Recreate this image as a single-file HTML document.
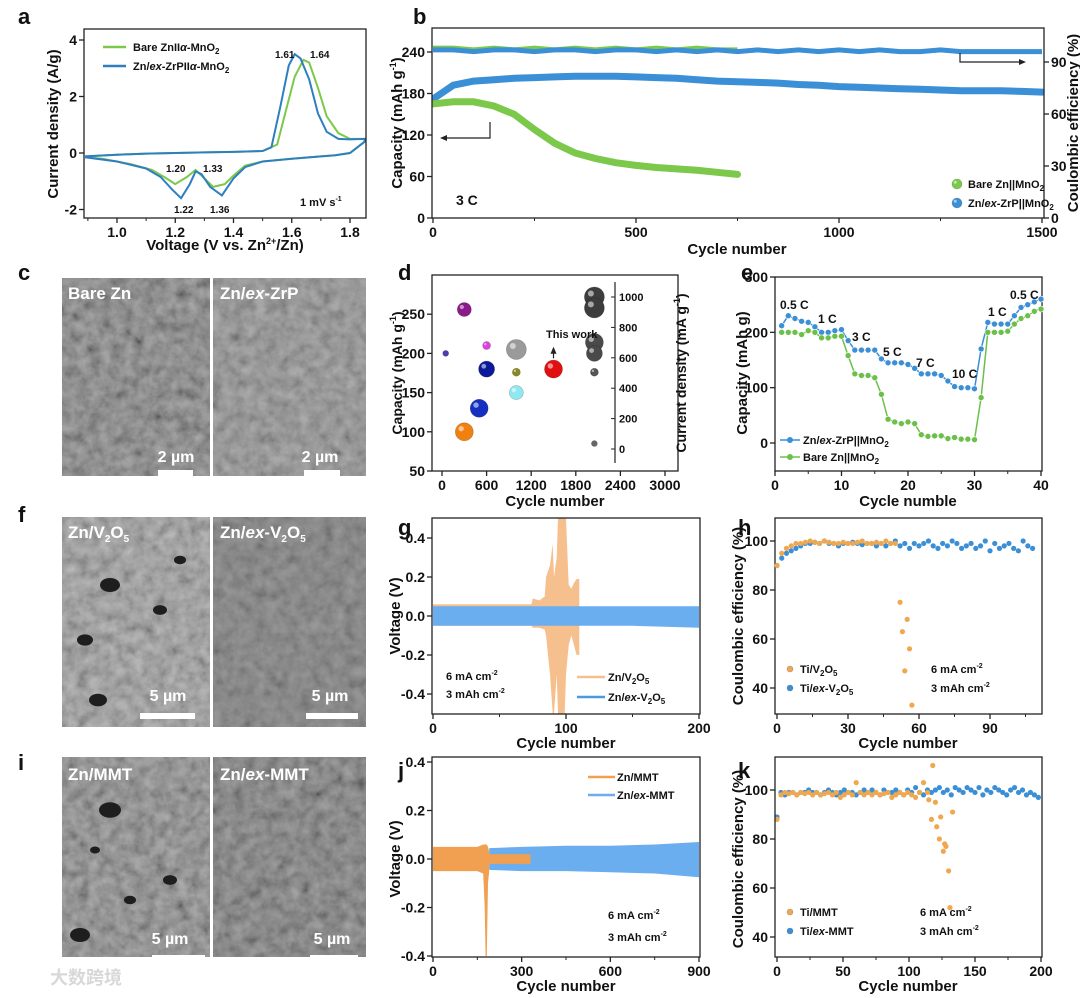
<!DOCTYPE html>
<html><head><meta charset="utf-8">
<style>
html,body{margin:0;padding:0;background:#fff;}
svg{display:block;font-family:"Liberation Sans","Noto Sans CJK SC",sans-serif;font-weight:bold;}
</style></head>
<body>
<svg id="fig" width="1080" height="998" viewBox="0 0 1080 998" xmlns="http://www.w3.org/2000/svg">
<defs>
<filter id="sem" x="0" y="0" width="100%" height="100%">
<feTurbulence type="fractalNoise" baseFrequency="0.09" numOctaves="3" seed="4"/>
<feColorMatrix type="matrix" values="0.5 0.5 0 0 -0.1  0.5 0.5 0 0 -0.1  0.5 0.5 0 0 -0.1  0 0 0 0 1"/>
</filter>
</defs>
</svg>
<script>
// ---------- data ----------
const cvVoltBlue = [0.89,1.0,1.1,1.2,1.3,1.4,1.5,1.53,1.56,1.59,1.61,1.63,1.66,1.69,1.72,1.76,1.80,1.85,1.85,1.80,1.75,1.70,1.60,1.50,1.44,1.40,1.36,1.32,1.29,1.27,1.25,1.22,1.19,1.15,1.10,1.00,0.89];
const cvCurBlue  = [-0.12,-0.06,-0.02,0.0,0.02,0.04,0.07,0.2,1.6,3.1,3.5,3.35,2.6,1.4,0.75,0.5,0.48,0.5,0.4,0.0,-0.08,-0.12,-0.2,-0.3,-0.5,-0.9,-1.5,-1.2,-0.75,-0.65,-1.1,-1.6,-1.3,-0.85,-0.55,-0.3,-0.15];
const cvVoltGreen = [0.89,1.0,1.1,1.2,1.3,1.4,1.5,1.55,1.58,1.61,1.64,1.66,1.69,1.72,1.76,1.80,1.85,1.85,1.80,1.75,1.70,1.60,1.50,1.44,1.40,1.37,1.33,1.30,1.27,1.24,1.20,1.17,1.12,1.05,0.95,0.89];
const cvCurGreen  = [-0.12,-0.06,-0.02,0.0,0.02,0.04,0.07,0.3,1.5,2.7,3.3,3.2,2.3,1.3,0.7,0.5,0.5,0.4,0.0,-0.08,-0.12,-0.2,-0.3,-0.45,-0.8,-1.1,-1.2,-0.9,-0.6,-0.85,-1.1,-0.9,-0.6,-0.4,-0.2,-0.15];
const bCycles = [0,50,100,150,200,250,300,350,400,450,500,550,600,650,700,750,800,850,900,950,1000,1050,1100,1150,1200,1250,1300,1350,1400,1450,1500];
const bCapBlue = [172,192,198,200,202,203,204,205,205,205,204,203,202,200,198,197,196,195,193,192,190,189,188,187,186,185,184,184,184,183,182];
const bCapGreen = [165,168,168,162,150,128,108,94,86,80,76,73,71,69,66,63];
const bCEBlue = [97,97,96,97,97,96,97,97,96,97,97,96,97,96,97,96,97,96,97,96,97,96,97,96,96,97,96,96,96,96,96];
const bCEGreen = [98,98,97,98,97,98,97,98,97,98,97,98,97,98,97,97];
const dCycles = [50,300,600,1000,600,1000,1500,1000,500,300,2050,2050,2050,2050,2050,2050];
const dCaps = [200,256,210,205,180,176,180,150,130,100,272,258,214,200,176,85];
const dSizes = [3,7,4,10,8,4,9,7,9,9,10,10,9,8,4,3];
const dColors = ['#4a3fb0','#8b1a8b','#e040e0','#9a9a9a','#0a1a9a','#8a8a20','#e01010','#8fe8f0','#1530c0','#f08010','#3d3d3d','#3d3d3d','#4a4a4a','#4a4a4a','#555','#666'];
const eCycles = [1,2,3,4,5,6,7,8,9,10,11,12,13,14,15,16,17,18,19,20,21,22,23,24,25,26,27,28,29,30,31,32,33,34,35,36,37,38,39,40];
const eBlue = [212,230,225,220,218,210,200,200,203,205,185,168,168,168,168,152,145,145,145,142,135,125,125,125,122,112,102,100,100,98,170,218,215,215,215,230,245,250,255,260];
const eGreen = [200,200,200,196,203,200,190,190,193,193,158,125,122,122,118,88,43,38,35,38,35,15,12,13,13,8,10,7,7,6,82,200,200,200,202,215,225,230,238,242];
const gOrCyc = [0,74,75,80,84,85,88,90,91,93,94,96,97,99,100,102,104,106,108,110,110];
const gOrUp  = [0.06,0.06,0.09,0.08,0.1,0.2,0.26,0.37,0.2,0.3,0.5,0.5,0.5,0.5,0.5,0.16,0.14,0.17,0.19,0.19,0];
const gOrLo  = [-0.05,-0.05,-0.06,-0.06,-0.07,-0.1,-0.3,-0.5,-0.5,-0.3,-0.5,-0.5,-0.5,-0.5,-0.3,-0.15,-0.1,-0.15,-0.2,-0.2,0];
const gBlCyc = [0,50,100,150,200];
const gBlUp = [0.05,0.05,0.05,0.05,0.05];
const gBlLo = [-0.05,-0.05,-0.05,-0.05,-0.06];
const hOrCyc = [0,2,4,6,8,10,12,14,16,18,20,22,24,26,28,30,32,34,36,38,40,42,44,46,48,50,52,53,54,55,56,57];
const hOrVal = [90,95,97,98,99,99,99.5,100,99.5,99,100,99.5,99,99,99.5,99,99,99.5,100,99,99,99.5,99,100,99,99,75,63,47,68,56,33];
const hBlCyc = [0,2,4,6,8,10,12,14,16,18,20,22,24,26,28,30,32,34,36,38,40,42,44,46,48,50,52,54,56,58,60,62,64,66,68,70,72,74,76,78,80,82,84,86,88,90,92,94,96,98,100,102,104,106,108];
const hBlVal = [90,93,95,96,97,98,99,99,99.5,99,100,99,99,98,99,99,99.5,99,98.5,99,99,98,99,98,99,100,98,99,97,99,98,99,100,98,97,99,98,100,99,97,98,99,97,98,100,96,99,97,98,99,97,96,100,98,97];
const jOrCyc = [0,100,150,170,175,178,182,186,190,190,330,330];
const jOrUp  = [0.05,0.05,0.05,0.06,0.06,0.06,0.06,0.05,0.03,0.02,0.02,0];
const jOrLo  = [-0.05,-0.05,-0.05,-0.06,-0.2,-0.4,-0.4,-0.1,-0.05,-0.02,-0.02,0];
const jBlCyc = [190,300,450,600,750,900];
const jBlUp = [0.045,0.05,0.055,0.055,0.06,0.07];
const jBlLo = [-0.045,-0.05,-0.05,-0.055,-0.06,-0.075];
const kOrCyc = [0,3,6,9,12,15,18,21,24,27,30,33,36,39,42,45,48,51,54,57,60,63,66,69,72,75,78,81,84,87,90,93,96,99,102,105,108,111,114,115,117,118,120,121,123,124,126,127,128,130,131,133,134];
const kOrVal = [88,98,99,98.5,99,98,99,98.5,99,98,99,98,98.5,99,98,99,97,98,99,98,103,99,98,99,98,99,98,98.5,99,97,98,99,98,99,98,97,99,103,99,96,88,110,95,85,80,89,75,78,77,67,52,91,30];
const kBlCyc = [0,3,6,9,12,15,18,21,24,27,30,33,36,39,42,45,48,51,54,57,60,63,66,69,72,75,78,81,84,87,90,93,96,99,102,105,108,111,114,117,120,123,126,129,132,135,138,141,144,147,150,153,156,159,162,165,168,171,174,177,180,183,186,189,192,195,198];
const kBlVal = [89,99,98,99,99,98,99,99,100,99,99,98,99,100,99,98,99,100,99,99,98,99,100,99,100,99,98,100,99,99,100,99,98,100,99,101,99,98,100,99,100,101,99,100,98,101,100,99,101,100,99,101,98,100,99,101,100,99,98,100,101,99,100,98,99,98,97];

// ---------- helpers ----------
const NS='http://www.w3.org/2000/svg';
const svg=document.getElementById('fig');
function mk(tag,attrs,parent){const e=document.createElementNS(NS,tag);for(const k in attrs)e.setAttribute(k,attrs[k]);(parent||svg).appendChild(e);return e;}
function lin(d0,d1,r0,r1){return v=>r0+(v-d0)*(r1-r0)/(d1-d0);}
function text(x,y,s,size,anchor,fill,rot){
  const t=mk('text',{x:x,y:y,'font-size':size,'text-anchor':anchor||'start',fill:fill||'#111'});
  if(rot)t.setAttribute('transform','rotate('+rot+' '+x+' '+y+')');
  t.innerHTML=s;return t;}
function frame(x0,y0,x1,y1){
  const r=mk('rect',{x:x0,y:y0,width:x1-x0,height:y1-y0,fill:'none',stroke:'#222','stroke-width':1.3});
  
  
  return r;}
function xAxis(sx,y,vals,labels,minor){
  vals.forEach((v,i)=>{
    const l=mk('line',{x1:sx(v),x2:sx(v),y1:y,y2:y+5,stroke:'#222','stroke-width':1.3});
    
    
    const t=text(sx(v),y+19,labels[i],14,'middle');
    
    
  });
  (minor||[]).forEach(v=>{const l=mk('line',{x1:sx(v),x2:sx(v),y1:y,y2:y+3,stroke:'#222','stroke-width':1});
    
    });
}
function yAxis(sy,x,vals,labels,right){
  vals.forEach((v,i)=>{
    const l=mk('line',{x1:x,x2:right?x+5:x-5,y1:sy(v),y2:sy(v),stroke:'#222','stroke-width':1.3});
    
    
    const t=text(right?x+7:x-7,sy(v)+5,labels[i],14,right?'start':'end');
    
    
  });
}
function title(x,y,s,rot,size){const t=text(x,y,s,size||15,'middle','#111',rot);return t;}
function panelLetter(x,y,s){const t=text(x,y,s,22,'start','#111');
  
  }
function clip(id,x0,y0,x1,y1){const c=mk('clipPath',{id:id});mk('rect',{x:x0,y:y0,width:x1-x0,height:y1-y0},c);return 'url(#'+id+')';}
function ptsStr(xs,ys,sx,sy){return xs.map((v,i)=>sx(v).toFixed(1)+','+sy(ys[i]).toFixed(1)).join(' ');}
function band(xs,up,lo,sx,sy,fill,cp,name){
  const a=xs.map((v,i)=>sx(v).toFixed(1)+','+sy(up[i]).toFixed(1));
  const b=xs.map((v,i)=>sx(v).toFixed(1)+','+sy(lo[i]).toFixed(1)).reverse();
  const p=mk('polygon',{points:a.concat(b).join(' '),fill:fill,'clip-path':cp});
  
  
}
function ball(cx,cy,r,color,name){
  const c=mk('circle',{cx:cx,cy:cy,r:r,fill:color,stroke:'rgba(0,0,0,0.25)','stroke-width':0.6});
  
  
  if(r>3){const h=mk('circle',{cx:cx-r*0.35,cy:cy-r*0.35,r:r*0.3,fill:'rgba(255,255,255,0.55)'});
    
    }
}
function sem(x,y,w,h,base,op,name){
  const g=mk('g',{});
  
  
  mk('rect',{x:x,y:y,width:w,height:h,fill:base},g);
  mk('rect',{x:x,y:y,width:w,height:h,filter:'url(#sem)',opacity:op},g);
  return g;
}

// ---------- panel a ----------
panelLetter(18,24,'a');
(function(){
  const sx=lin(1.0,1.8,117,350), sy=lin(0,4,153,40);
  const cp=clip('ca',84,29,366,218);
  const gB=mk('polyline',{points:ptsStr(cvVoltGreen,cvCurGreen,sx,sy),fill:'none',stroke:'#7cc84a','stroke-width':2,'clip-path':cp});
  
  
  const bB=mk('polyline',{points:ptsStr(cvVoltBlue,cvCurBlue,sx,sy),fill:'none',stroke:'#2e7fc0','stroke-width':2,'clip-path':cp});
  
  
  frame(84,29,366,218);
  xAxis(sx,218,[1.0,1.2,1.4,1.6,1.8],['1.0','1.2','1.4','1.6','1.8'],[0.9,1.1,1.3,1.5,1.7]);
  yAxis(sy,84,[-2,0,2,4],['-2','0','2','4']);
  title(225,250,'Voltage (V vs. Zn<tspan font-size="9" dy="-6">2+</tspan><tspan dy="6">/Zn)</tspan>');
  title(58,124,'Current density (A/g)',-90);
  const lg1=mk('line',{x1:103,x2:126,y1:47,y2:47,stroke:'#7cc84a','stroke-width':2.5});
  
  
  text(133,51,'Bare ZnII<tspan font-style="italic">α</tspan>-MnO<tspan font-size="8" dy="3">2</tspan>',11);
  const lg2=mk('line',{x1:103,x2:126,y1:66,y2:66,stroke:'#2e7fc0','stroke-width':2.5});
  
  
  text(133,70,'Zn/<tspan font-style="italic">ex</tspan>-ZrPII<tspan font-style="italic">α</tspan>-MnO<tspan font-size="8" dy="3">2</tspan>',11);
  text(275,58,'1.61',10,'start');text(310,58,'1.64',10,'start');
  text(166,172,'1.20',10);text(203,172,'1.33',10);
  text(174,213,'1.22',10);text(210,213,'1.36',10);
  text(300,206,'1 mV s<tspan font-size="7" dy="-5">-1</tspan>',11);
})();

// ---------- panel b ----------
panelLetter(413,24,'b');
(function(){
  const sx=lin(0,1500,433,1042), sy=lin(0,240,218,52), sy2=lin(0,90,218,62);
  const cp=clip('cb',432,28,1044,218);
  const gc=mk('polyline',{points:ptsStr(bCycles.slice(0,16),bCEGreen,sx,sy2),fill:'none',stroke:'#7cc84a','stroke-width':5,'clip-path':cp});
  
  
  const bc=mk('polyline',{points:ptsStr(bCycles,bCEBlue,sx,sy2),fill:'none',stroke:'#3a8fd6','stroke-width':5,'clip-path':cp});
  
  
  const bl=mk('polyline',{points:ptsStr(bCycles,bCapBlue,sx,sy),fill:'none',stroke:'#3a8fd6','stroke-width':7,'stroke-linecap':'round','clip-path':cp});
  
  
  const gl=mk('polyline',{points:ptsStr(bCycles.slice(0,16),bCapGreen,sx,sy),fill:'none',stroke:'#7cc84a','stroke-width':7,'stroke-linecap':'round','clip-path':cp});
  
  
  frame(432,28,1044,218);
  xAxis(sx,218,[0,500,1000,1500],['0','500','1000','1500'],[250,750,1250]);
  yAxis(sy,432,[0,60,120,180,240],['0','60','120','180','240']);
  yAxis(sy2,1044,[0,30,60,90],['0','30','60','90'],true);
  title(737,254,'Cycle number');
  title(402,123,'Capacity (mAh g<tspan font-size="9" dy="-6">-1</tspan><tspan dy="6">)</tspan>',-90);
  title(1078,123,'Coulombic efficiency (%)',-90);
  const a1=mk('polyline',{points:'490,122 490,138 442,138',fill:'none',stroke:'#222','stroke-width':1.2});
  
  
  mk('polygon',{points:'440,138 447,135 447,141',fill:'#222'});
  const a2=mk('polyline',{points:'960,53 960,62 1022,62',fill:'none',stroke:'#222','stroke-width':1.2});
  
  
  mk('polygon',{points:'1026,62 1019,59 1019,65',fill:'#222'});
  text(456,205,'3 C',14);
  ball(957,184,5,'#7cc84a','legend-bare-zn-marker');
  text(968,188,'Bare Zn||MnO<tspan font-size="8" dy="3">2</tspan>',11);
  ball(957,203,5,'#3a8fd6','legend-zn-ex-zrp-marker');
  text(968,207,'Zn/<tspan font-style="italic">ex</tspan>-ZrP||MnO<tspan font-size="8" dy="3">2</tspan>',11);
})();

// ---------- SEM images ----------
panelLetter(18,280,'c');panelLetter(18,522,'f');panelLetter(18,770,'i');
sem(62,278,148,198,'#6f6f6f',0.55,'sem-bare-zn');
sem(213,278,153,198,'#8a8a8a',0.45,'sem-zn-ex-zrp');
sem(62,517,148,210,'#9a9a9a',0.5,'sem-zn-v2o5');
sem(213,517,153,210,'#787878',0.35,'sem-zn-ex-v2o5');
sem(62,757,148,200,'#7a7a7a',0.55,'sem-zn-mmt');
sem(213,757,153,200,'#6a6a6a',0.5,'sem-zn-ex-mmt');
[[110,585,10],[85,640,8],[160,610,7],[98,700,9],[180,560,6]].forEach(h=>{const e=mk('ellipse',{cx:h[0],cy:h[1],rx:h[2],ry:h[2]*0.7,fill:'#1e1e1e'});
  
  });
[[110,810,11],[80,935,10],[170,880,7],[130,900,6],[95,850,5]].forEach(h=>{const e=mk('ellipse',{cx:h[0],cy:h[1],rx:h[2],ry:h[2]*0.7,fill:'#1e1e1e'});
  
  });
[[68,299,'Bare Zn'],[220,299,'Zn/<tspan font-style="italic">ex</tspan>-ZrP'],
 [68,538,'Zn/V<tspan font-size="10" dy="4">2</tspan><tspan dy="-4">O</tspan><tspan font-size="10" dy="4">5</tspan>'],
 [220,538,'Zn/<tspan font-style="italic">ex</tspan>-V<tspan font-size="10" dy="4">2</tspan><tspan dy="-4">O</tspan><tspan font-size="10" dy="4">5</tspan>'],
 [68,780,'Zn/MMT'],[220,780,'Zn/<tspan font-style="italic">ex</tspan>-MMT']].forEach(l=>{const t=text(l[0],l[1],l[2],17,'start','#fff');
  
  });
[[176,462,158,193,470,'2 µm'],[320,462,304,340,470,'2 µm'],[168,701,140,195,713,'5 µm'],[330,701,306,358,713,'5 µm'],[170,944,152,205,955,'5 µm'],[332,944,310,358,955,'5 µm']].forEach(s=>{
  const t=text(s[0],s[1],s[5],16,'middle','#fff');
  
  
  const r=mk('rect',{x:s[2],y:s[4],width:s[3]-s[2],height:6,fill:'#fff'});
  
  });

// ---------- panel d ----------
panelLetter(398,280,'d');
(function(){
  const sx=lin(0,3000,442,665), sy=lin(50,300,471,275), sy2=lin(0,1000,449,297);
  frame(432,275,678,471);
  dCycles.forEach((c,i)=>ball(sx(c),sy(dCaps[i]),dSizes[i],dColors[i],'bubble-'+i));
  xAxis(sx,471,[0,600,1200,1800,2400,3000],['0','600','1200','1800','2400','3000']);
  yAxis(sy,432,[50,100,150,200,250],['50','100','150','200','250']);
  const ax=mk('line',{x1:615,x2:615,y1:282,y2:463,stroke:'#222','stroke-width':1.2});
  
  
  [0,200,400,600,800,1000].forEach(v=>{const l=mk('line',{x1:615,x2:611,y1:sy2(v),y2:sy2(v),stroke:'#222'});
    
    
    const t=text(619,sy2(v)+4,String(v),11,'start');
    
    });
  title(555,506,'Cycle number');
  title(402,373,'Capacity (mAh g<tspan font-size="9" dy="-6">-1</tspan><tspan dy="6">)</tspan>',-90,14);
  title(686,373,'Current density (mA g<tspan font-size="9" dy="-6">-1</tspan><tspan dy="6">)</tspan>',-90,14);
  text(546,338,'This work',11);
  const ar=mk('line',{x1:sx(1500),x2:sx(1500),y1:sy(181)-10,y2:sy(206),stroke:'#222','stroke-width':1.2});
  
  
  mk('polygon',{points:(sx(1500)-3)+','+(sy(206)+5)+' '+(sx(1500)+3)+','+(sy(206)+5)+' '+sx(1500)+','+(sy(206)-2),fill:'#222'});
})();

// ---------- panel e ----------
panelLetter(741,280,'e');
(function(){
  const sx=lin(0,40,775,1041), sy=lin(0,300,443,277);
  frame(775,277,1042,471);
  [['#3a8fd6',eBlue,'rate-zn-ex-zrp'],['#6cc04a',eGreen,'rate-bare-zn']].forEach(s=>{
    const pl=mk('polyline',{points:ptsStr(eCycles,s[1],sx,sy),fill:'none',stroke:s[0],'stroke-width':1.5});
    
    
    eCycles.forEach((c,i)=>{const m=mk('circle',{cx:sx(c),cy:sy(s[1][i]),r:3,fill:s[0],stroke:'#fff','stroke-width':0.6});
      
      });
  });
  xAxis(sx,471,[0,10,20,30,40],['0','10','20','30','40'],[5,15,25,35]);
  yAxis(sy,775,[0,100,200,300],['0','100','200','300']);
  title(908,506,'Cycle numble');
  title(747,373,'Capacity (mAh g)',-90);
  [[780,309,'0.5 C'],[818,323,'1 C'],[852,341,'3 C'],[883,356,'5 C'],[916,367,'7 C'],[952,378,'10 C'],[988,316,'1 C'],[1010,299,'0.5 C']].forEach(l=>{const t=text(l[0],l[1],l[2],12);
    
    });
  const l1=mk('line',{x1:780,x2:800,y1:440,y2:440,stroke:'#3a8fd6','stroke-width':1.5});
  
  
  mk('circle',{cx:790,cy:440,r:3,fill:'#3a8fd6'});
  text(803,444,'Zn/<tspan font-style="italic">ex</tspan>-ZrP||MnO<tspan font-size="8" dy="3">2</tspan>',11);
  const l2=mk('line',{x1:780,x2:800,y1:457,y2:457,stroke:'#6cc04a','stroke-width':1.5});
  
  
  mk('circle',{cx:790,cy:457,r:3,fill:'#6cc04a'});
  text(803,461,'Bare Zn||MnO<tspan font-size="8" dy="3">2</tspan>',11);
})();

// ---------- panel g ----------
panelLetter(398,535,'g');
(function(){
  const sx=lin(0,200,433,699), sy=lin(-0.4,0.4,694,538);
  const cp=clip('cg',432,518,700,714);
  band(gOrCyc,gOrUp,gOrLo,sx,sy,'#f6c08e',cp,'voltage-zn-v2o5');
  band(gBlCyc,gBlUp,gBlLo,sx,sy,'#6aaef0',cp,'voltage-zn-ex-v2o5');
  frame(432,518,700,714);
  xAxis(sx,714,[0,100,200],['0','100','200'],[50,150]);
  yAxis(sy,432,[-0.4,-0.2,0,0.2,0.4],['-0.4','-0.2','0.0','0.2','0.4']);
  title(566,748,'Cycle number');
  title(400,616,'Voltage (V)',-90);
  text(446,680,'6 mA cm<tspan font-size="7" dy="-5">-2</tspan>',11);
  text(446,698,'3 mAh cm<tspan font-size="7" dy="-5">-2</tspan>',11);
  const o=mk('line',{x1:577,x2:605,y1:677,y2:677,stroke:'#f6c08e','stroke-width':2.5});
  
  
  text(608,681,'Zn/V<tspan font-size="8" dy="3">2</tspan><tspan dy="-3">O</tspan><tspan font-size="8" dy="3">5</tspan>',11);
  const b=mk('line',{x1:577,x2:605,y1:697,y2:697,stroke:'#4a9ae0','stroke-width':2.5});
  
  
  text(608,701,'Zn/<tspan font-style="italic">ex</tspan>-V<tspan font-size="8" dy="3">2</tspan><tspan dy="-3">O</tspan><tspan font-size="8" dy="3">5</tspan>',11);
})();

// ---------- panel h ----------
panelLetter(738,535,'h');
(function(){
  const sx=lin(0,90,777,990), sy=lin(40,100,688,541);
  frame(775,518,1042,714);
  hBlCyc.forEach((c,i)=>{const m=mk('circle',{cx:sx(c),cy:sy(hBlVal[i]),r:2.6,fill:'#3a8fd6'});
    
    });
  hOrCyc.forEach((c,i)=>{const m=mk('circle',{cx:sx(c),cy:sy(hOrVal[i]),r:2.6,fill:'#f0a850'});
    
    });
  xAxis(sx,714,[0,30,60,90],['0','30','60','90'],[15,45,75,105]);
  yAxis(sy,775,[40,60,80,100],['40','60','80','100']);
  title(908,748,'Cycle number');
  title(743,616,'Coulombic efficiency (%)',-90);
  ball(790,669,3,'#f0a850','legend-ti-v2o5-marker');
  text(800,673,'Ti/V<tspan font-size="8" dy="3">2</tspan><tspan dy="-3">O</tspan><tspan font-size="8" dy="3">5</tspan>',11);
  ball(790,688,3,'#3a8fd6','legend-ti-ex-v2o5-marker');
  text(800,692,'Ti/<tspan font-style="italic">ex</tspan>-V<tspan font-size="8" dy="3">2</tspan><tspan dy="-3">O</tspan><tspan font-size="8" dy="3">5</tspan>',11);
  text(931,673,'6 mA cm<tspan font-size="7" dy="-5">-2</tspan>',11);
  text(931,692,'3 mAh cm<tspan font-size="7" dy="-5">-2</tspan>',11);
})();

// ---------- panel j ----------
panelLetter(398,778,'j');
(function(){
  const sx=lin(0,900,433,699), sy=lin(-0.4,0.4,956,762);
  const cp=clip('cj',432,757,700,957);
  band(jBlCyc,jBlUp,jBlLo,sx,sy,'#6aaef0',cp,'voltage-zn-ex-mmt');
  band(jOrCyc,jOrUp,jOrLo,sx,sy,'#f0a050',cp,'voltage-zn-mmt');
  frame(432,757,700,957);
  xAxis(sx,957,[0,300,600,900],['0','300','600','900'],[150,450,750]);
  yAxis(sy,432,[-0.4,-0.2,0,0.2,0.4],['-0.4','-0.2','0.0','0.2','0.4']);
  title(566,991,'Cycle number');
  title(400,859,'Voltage (V)',-90);
  const o=mk('line',{x1:588,x2:615,y1:777,y2:777,stroke:'#f0a050','stroke-width':2.5});
  
  
  text(617,781,'Zn/MMT',11);
  const b=mk('line',{x1:588,x2:615,y1:795,y2:795,stroke:'#6aaef0','stroke-width':2.5});
  
  
  text(617,799,'Zn/<tspan font-style="italic">ex</tspan>-MMT',11);
  text(608,919,'6 mA cm<tspan font-size="7" dy="-5">-2</tspan>',11);
  text(608,941,'3 mAh cm<tspan font-size="7" dy="-5">-2</tspan>',11);
})();

// ---------- panel k ----------
panelLetter(738,778,'k');
(function(){
  const sx=lin(0,200,777,1041), sy=lin(40,100,937,790);
  const cp=clip('ck',775,757,1042,957);
  kBlCyc.forEach((c,i)=>{const m=mk('circle',{cx:sx(c),cy:sy(kBlVal[i]),r:2.6,fill:'#3a8fd6','clip-path':cp});
    
    });
  kOrCyc.forEach((c,i)=>{const m=mk('circle',{cx:sx(c),cy:sy(kOrVal[i]),r:2.6,fill:'#f0a850','clip-path':cp});
    
    });
  frame(775,757,1042,957);
  xAxis(sx,957,[0,50,100,150,200],['0','50','100','150','200'],[25,75,125,175]);
  yAxis(sy,775,[40,60,80,100],['40','60','80','100']);
  title(908,991,'Cycle number');
  title(743,859,'Coulombic efficiency (%)',-90);
  ball(790,912,3,'#f0a850','legend-ti-mmt-marker');
  text(800,916,'Ti/MMT',11);
  ball(790,931,3,'#3a8fd6','legend-ti-ex-mmt-marker');
  text(800,935,'Ti/<tspan font-style="italic">ex</tspan>-MMT',11);
  text(920,916,'6 mA cm<tspan font-size="7" dy="-5">-2</tspan>',11);
  text(920,935,'3 mAh cm<tspan font-size="7" dy="-5">-2</tspan>',11);
})();

const wm=text(50,984,'大数跨境',18,'start','#d8d8d8');


</script>
</body></html>
